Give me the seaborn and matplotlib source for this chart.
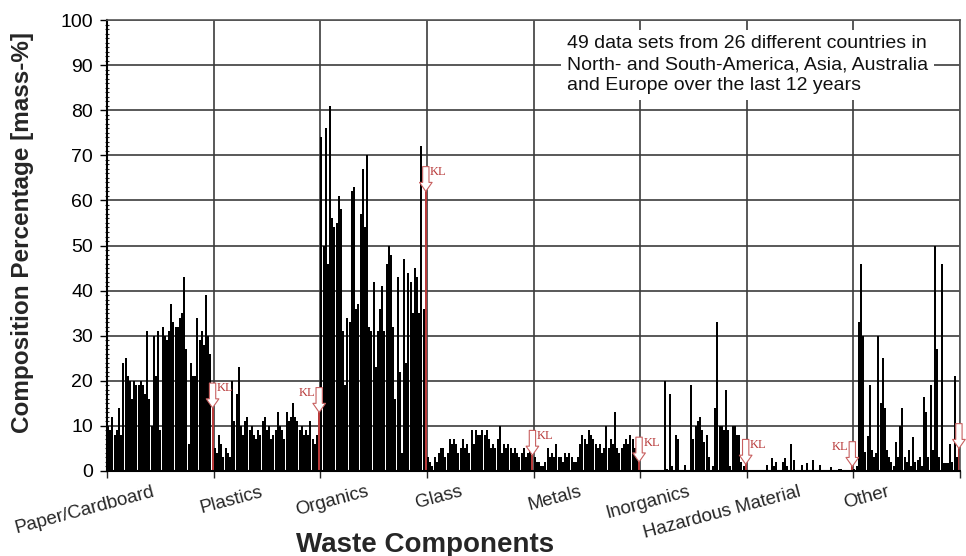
import numpy as np
import pandas as pd
import seaborn as sns
import matplotlib
matplotlib.use("Agg")
import matplotlib.pyplot as plt
from matplotlib.ticker import MultipleLocator
from matplotlib.transforms import ScaledTranslation

categories = ["Paper/Cardboard", "Plastics", "Organics", "Glass", "Metals",
              "Inorganics", "Hazardous Material", "Other"]

paper = [10, 9, 12, 8, 9, 14, 8, 24, 25, 21, 20, 16, 20, 19, 19, 20, 19, 17, 31, 16,
         10, 30, 21, 31, 9, 32, 30, 29, 31, 37, 33, 32, 32, 34, 35, 43, 27, 6, 24, 21,
         21, 34, 29, 31, 28, 39, 30, 26]
plastics = [5, 4, 8, 6, 3, 5, 4, 3, 20, 11, 17, 23, 10, 8, 11, 12, 9, 10, 8, 7,
            9, 8, 11, 12, 9, 10, 7, 8, 9, 13, 10, 9, 7, 13, 11, 12, 15, 12, 11, 9,
            10, 8, 9, 8, 11, 7, 6, 8]
organics = [74, 50, 76, 46, 81, 56, 54, 55, 61, 58, 31, 19, 34, 33, 62, 63, 36, 37, 57, 67,
            54, 70, 32, 31, 42, 23, 31, 36, 41, 31, 46, 50, 48, 32, 16, 43, 22, 4, 47, 24,
            44, 42, 35, 45, 43, 35, 72, 36]
glass = [3, 2, 1, 3, 2, 4, 5, 5, 3, 4, 7, 6, 7, 6, 4, 5, 7, 5, 6, 4,
         9, 6, 9, 8, 8, 9, 8, 9, 7, 5, 6, 5, 7, 10, 4, 6, 5, 6, 5, 4,
         5, 4, 3, 4, 5, 3, 4, 5]
metals = [3, 2, 2, 1, 1, 2, 5, 3, 4, 3, 6, 3, 3, 2, 4, 3, 4, 3, 2, 2,
          3, 6, 8, 7, 6, 9, 8, 7, 6, 5, 6, 4, 5, 10, 5, 7, 6, 13, 5, 4,
          5, 6, 7, 6, 8, 7, 5, 6]
inorganics = [0, 0, 0, 0, 0, 0, 0, 0, 0, 0, 0, 20, 0.5, 17, 1, 0, 8, 7, 0, 0,
              1.3, 0, 0, 19, 7, 10, 11, 12, 9, 6.5, 8, 3, 0, 1, 14, 33, 10, 10, 9, 18,
              9, 1, 10, 10, 8, 8, 2, 1]
hazardous = [0, 0, 0, 0, 0, 0, 0, 0, 0, 1.3, 0, 2.8, 1, 2, 0, 0, 2, 2.8, 1, 0,
             6, 2.4, 0, 0, 0, 1.3, 0, 1.7, 0, 0, 2.4, 0, 0, 1.3, 0, 0, 0, 0, 0.9, 0,
             0, 0, 0.5, 0.5, 0, 0, 0, 0]
other = [0.5, 1, 33, 46, 30, 4.3, 7.8, 19, 4.6, 3, 4, 30, 15, 25, 14, 4.6, 3, 2, 1, 6.4,
         3, 10, 14, 3, 2, 4.6, 1, 7.6, 2, 2.4, 3, 1, 16.5, 13, 3, 19, 4.6, 50, 27, 3,
         46, 1.7, 1.7, 1.7, 6, 2, 21, 3]
kl_values = [14, 13, 62, 3.5, 2, 1.5, 1, 5]
kl_text_side = ["right", "left", "right", "right", "right", "right", "left", None]

groups = [paper, plastics, organics, glass, metals, inorganics, hazardous, other]
slot = len(paper) + 1

rows = []
for g, vals in enumerate(groups):
    for i, v in enumerate(vals):
        rows.append({"pos": g * slot + i, "value": v, "kind": "data"})
    rows.append({"pos": g * slot + len(vals), "value": kl_values[g], "kind": "KL"})
df = pd.DataFrame(rows)

sns.set_style("white")
plt.rcParams["font.family"] = ["Liberation Sans", "DejaVu Sans"]

RED = "#b83a3a"
fig = plt.figure(figsize=(9.66, 5.56), dpi=100)
ax = fig.add_axes([0.1108, 0.1529, 0.883, 0.811])

ax.set_axisbelow(True)
sns.barplot(data=df, x="pos", y="value", hue="kind",
            palette={"data": "black", "KL": RED}, native_scale=True, dodge=False,
            width=0.92, legend=False, errorbar=None, saturation=1, linewidth=0, ax=ax)

n_total = slot * len(groups)
ax.set_xlim(-0.5, n_total - 0.5)
ax.set_ylim(0, 100)

# y axis
ax.set_yticks(np.arange(0, 101, 10))
ax.yaxis.set_minor_locator(MultipleLocator(1))
ax.tick_params(axis="y", which="major", labelsize=14, length=5, width=1, direction="out",
               left=True, pad=5, colors="black")
ax.tick_params(axis="y", which="minor", length=2.5, width=0.8, direction="inout", left=True)
ax.set_ylabel("Composition Percentage [mass-%]", fontsize=17.5, fontweight="bold")
ax.yaxis.set_label_coords(-0.086, 0.53)

# x axis
bounds = [g * slot - 0.5 for g in range(len(groups) + 1)]
centers = [g * slot + slot / 2 - 0.5 for g in range(len(groups))]
ax.set_xticks(bounds)
ax.set_xticklabels([""] * len(bounds))
ax.set_xticks(centers, minor=True)
ax.set_xticklabels(categories, minor=True, rotation=15, ha="right", rotation_mode="anchor",
                   fontsize=13.5)
ax.tick_params(axis="x", which="major", length=5, width=1, direction="out", bottom=True)
ax.tick_params(axis="x", which="minor", length=0, pad=9)
label_shift_px = [-8, -7, -8, -20, -8, -6, -2, -20]
for lab, dx in zip(ax.get_xticklabels(minor=True), label_shift_px):
    lab.set_transform(lab.get_transform() + ScaledTranslation(dx / 100, 0, fig.dpi_scale_trans))
ax.set_xlabel("Waste Components", fontsize=20, fontweight="bold")
ax.xaxis.set_label_coords(0.373, -0.135)

ax.grid(True, which="major", axis="both", color="#3c3c3c", lw=1.2)
for side in ["top", "right"]:
    ax.spines[side].set_color("#555555")
    ax.spines[side].set_linewidth(1.2)
for side in ["left", "bottom"]:
    ax.spines[side].set_color("black")
    ax.spines[side].set_linewidth(1.5)

# KL markers
for g, kv in enumerate(kl_values):
    x = g * slot + len(groups[g])
    ax.annotate("", xy=(x, kv), xytext=(x, kv + 5.5),
                arrowprops=dict(arrowstyle="simple,head_length=0.5,head_width=0.7,tail_width=0.35",
                                fc="white", ec="#c86060", lw=0.8, mutation_scale=13,
                                shrinkA=0, shrinkB=0))
    side = kl_text_side[g]
    if side == "right":
        ax.text(x + 2.0, kv + 4.3, "KL", color=RED, fontsize=9,
                family=["Liberation Serif"], ha="left", va="center")
    elif side == "left":
        ax.text(x - 2.0, kv + 4.3, "KL", color=RED, fontsize=9,
                family=["Liberation Serif"], ha="right", va="center")

ax.text(0.539, 0.966,
        "49 data sets from 26 different countries in\n"
        "North- and South-America, Asia, Australia\n"
        "and Europe over the last 12 years",
        transform=ax.transAxes, ha="left", va="top", fontsize=14, linespacing=1.3,
        color="#111111",
        bbox=dict(facecolor="white", edgecolor="none", boxstyle="square,pad=0.3"))

fig.savefig("out.png", dpi=100)
